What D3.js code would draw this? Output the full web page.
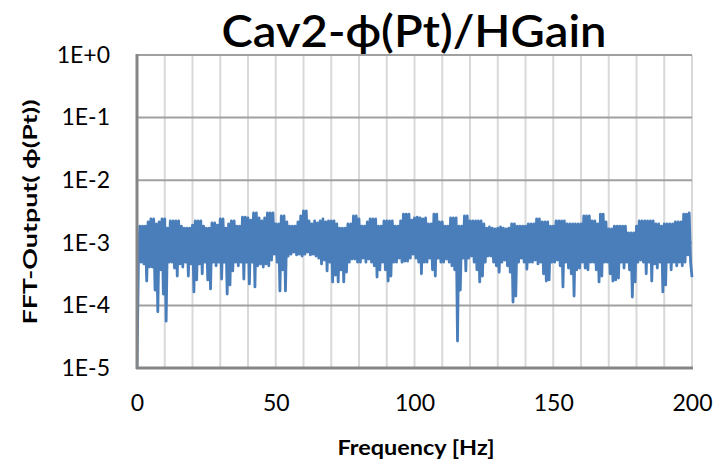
<!DOCTYPE html>
<html>
<head>
<meta charset="utf-8">
<script src="https://cdn.jsdelivr.net/npm/d3@7"></script>
<style>
  html, body { margin: 0; padding: 0; background: #fff; }
  svg { display: block; }
  text { font-family: Lato, "Open Sans", "DejaVu Sans", sans-serif; fill: #000; }
</style>
</head>
<body>
<svg id="chart" width="715" height="465"></svg>
<script>
// ---- Data ----
const chartTitle = "Cav2-\u03D5(Pt)/HGain";
const xTitle = "Frequency [Hz]";
const yTitle = "FFT-Output( \u03D5(Pt))";

const xTickValues = [0, 50, 100, 150, 200];
const xGridValues = [0, 10, 20, 30, 40, 50, 60, 70, 80, 90, 100, 110, 120, 130, 140, 150, 160, 170, 180, 190, 200];
const yTickValues = [1, 1e-1, 1e-2, 1e-3, 1e-4, 1e-5];
const yTickLabels = ["1E+0", "1E-1", "1E-2", "1E-3", "1E-4", "1E-5"];

const freqStart = 0;     // Hz
const freqStep = 0.5;    // Hz between samples

// FFT amplitude, one value every 0.5 Hz from 0 to 200 Hz
const amplitude = [
  1e-5, 4.6e-4, 1.85e-3, 4.9e-4, 1.85e-3, 4.6e-4, 1.85e-3, 2.45e-4, 2.15e-3, 4.1e-4, 2.4e-3, 4.1e-4, 2.4e-3, 1.76e-4, 2.0e-3, 7.9e-5, 2.15e-3, 3.7e-4, 2.4e-3, 1.52e-4,
  2.4e-3, 5.6e-5, 1.72e-3, 4.9e-4, 2.23e-3, 4.9e-4, 2.23e-3, 3.95e-4, 2.23e-3, 2.95e-4, 2.23e-3, 4.6e-4, 1.85e-3, 4.1e-4, 1.72e-3, 4.9e-4, 1.72e-3, 2.95e-4, 1.72e-3, 4.6e-4,
  1.92e-3, 1.64e-4, 2.23e-3, 2.55e-4, 2.23e-3, 4.6e-4, 2.23e-3, 3.2e-4, 1.85e-3, 4.9e-4, 1.72e-3, 2.55e-4, 1.72e-3, 1.83e-4, 2.07e-3, 4.9e-4, 2.07e-3, 4.3e-4, 1.92e-3, 4.9e-4,
  2.4e-3, 2.64e-4, 2.4e-3, 4.9e-4, 1.72e-3, 1.52e-4, 2.0e-3, 2.12e-4, 2.23e-3, 3.55e-4, 2.23e-3, 4.9e-4, 1.85e-3, 4.3e-4, 1.85e-3, 4.9e-4, 2.58e-3, 2.64e-4, 2.58e-3, 4.9e-4,
  2.49e-3, 2.2e-4, 2.31e-3, 4.9e-4, 2.99e-3, 1.97e-4, 2.99e-3, 4.3e-4, 2.49e-3, 4.6e-4, 2.23e-3, 4.1e-4, 2.49e-3, 4.6e-4, 2.99e-3, 4.3e-4, 2.99e-3, 5.3e-4, 2.99e-3, 6.6e-4,
  2.0e-3, 4.9e-4, 2.0e-3, 1.7e-4, 2.68e-3, 3.7e-4, 2.68e-3, 1.7e-4, 2.15e-3, 6.15e-4, 1.85e-3, 6.6e-4, 1.85e-3, 7.1e-4, 1.85e-3, 6.4e-4, 2.15e-3, 6.6e-4, 2.68e-3, 6.15e-4,
  3.22e-3, 6.6e-4, 3.22e-3, 7.1e-4, 2.23e-3, 6.4e-4, 2.0e-3, 6.6e-4, 2.23e-3, 6.15e-4, 2.07e-3, 5.7e-4, 2.23e-3, 4.6e-4, 2.4e-3, 5.3e-4, 2.15e-3, 3.55e-4, 2.23e-3, 4.9e-4,
  2.23e-3, 2.37e-4, 2.23e-3, 3.06e-4, 2.0e-3, 2.37e-4, 1.72e-3, 3.7e-4, 1.72e-3, 2.37e-4, 1.72e-3, 3.4e-4, 2.0e-3, 4.9e-4, 2.0e-3, 5.5e-4, 2.68e-3, 5.5e-4, 2.68e-3, 4.9e-4,
  2.4e-3, 4.9e-4, 1.85e-3, 5.7e-4, 1.85e-3, 4.9e-4, 2.15e-3, 5.5e-4, 2.4e-3, 4.9e-4, 2.4e-3, 4.3e-4, 2.4e-3, 2.84e-4, 1.85e-3, 3.7e-4, 1.85e-3, 4.9e-4, 2.23e-3, 3.7e-4,
  2.23e-3, 2.45e-4, 2.23e-3, 2.95e-4, 2.23e-3, 4.9e-4, 1.85e-3, 4.9e-4, 1.85e-3, 5.7e-4, 2.23e-3, 4.9e-4, 2.88e-3, 5.1e-4, 2.88e-3, 5.1e-4, 2.88e-3, 5.7e-4, 2.31e-3, 6.6e-4,
  2.49e-3, 5.7e-4, 2.58e-3, 4.9e-4, 2.49e-3, 3.2e-4, 2.4e-3, 4.9e-4, 2.49e-3, 4.9e-4, 2.0e-3, 5.7e-4, 2.0e-3, 3.7e-4, 2.88e-3, 2.95e-4, 2.88e-3, 5.7e-4, 2.15e-3, 4.9e-4,
  2.15e-3, 4.9e-4, 1.85e-3, 5.5e-4, 1.85e-3, 4.9e-4, 2.49e-3, 4.3e-4, 2.49e-3, 3.7e-4, 2.49e-3, 2.7e-5, 1.85e-3, 1.76e-4, 1.85e-3, 5.7e-4, 2.68e-3, 3.55e-4, 2.68e-3, 5.7e-4,
  2.23e-3, 6.15e-4, 2.23e-3, 4.9e-4, 2.23e-3, 3.7e-4, 2.23e-3, 2.37e-4, 2.23e-3, 2.95e-4, 2.0e-3, 4.9e-4, 1.72e-3, 6.15e-4, 1.79e-3, 6.15e-4, 1.72e-3, 4.9e-4, 1.66e-3, 4.3e-4,
  1.72e-3, 3.4e-4, 1.79e-3, 4.9e-4, 1.72e-3, 5.3e-4, 1.66e-3, 4.3e-4, 1.72e-3, 3.4e-4, 2.0e-3, 1.13e-4, 2.0e-3, 1.41e-4, 1.85e-3, 4.9e-4, 1.85e-3, 5.7e-4, 1.85e-3, 4.9e-4,
  1.85e-3, 3.8e-4, 2.0e-3, 4.9e-4, 2.0e-3, 4.9e-4, 2.0e-3, 5.3e-4, 2.4e-3, 4.6e-4, 2.4e-3, 4.9e-4, 2.15e-3, 3.2e-4, 2.15e-3, 2.45e-4, 2.15e-3, 2.55e-4, 1.85e-3, 4.9e-4,
  1.85e-3, 4.9e-4, 2.23e-3, 5.3e-4, 2.23e-3, 4.3e-4, 2.23e-3, 1.97e-4, 2.23e-3, 4.9e-4, 2.0e-3, 3.95e-4, 2.0e-3, 3.2e-4, 2.0e-3, 1.41e-4, 2.0e-3, 3.7e-4, 2.0e-3, 3.95e-4,
  2.0e-3, 4.9e-4, 2.68e-3, 3.95e-4, 2.68e-3, 3.7e-4, 2.68e-3, 4.9e-4, 2.23e-3, 4.9e-4, 2.23e-3, 3.7e-4, 2.0e-3, 2.37e-4, 2.88e-3, 2.95e-4, 2.88e-3, 4.9e-4, 2.15e-3, 4.9e-4,
  1.66e-3, 3.2e-4, 1.66e-3, 2.45e-4, 1.85e-3, 2.55e-4, 1.85e-3, 2.74e-4, 1.85e-3, 4.9e-4, 1.85e-3, 3.95e-4, 1.85e-3, 4.9e-4, 1.44e-3, 3.7e-4, 1.44e-3, 1.36e-4, 1.44e-3, 2.37e-4,
  1.85e-3, 4.9e-4, 2.23e-3, 5.3e-4, 2.23e-3, 4.9e-4, 2.23e-3, 3.2e-4, 2.23e-3, 4.9e-4, 2.23e-3, 2.45e-4, 2.23e-3, 4.6e-4, 2.0e-3, 3.95e-4, 2.0e-3, 4.9e-4, 1.85e-3, 1.64e-4,
  2.0e-3, 2.12e-4, 2.0e-3, 4.9e-4, 2.0e-3, 3.7e-4, 2.0e-3, 4.9e-4, 2.15e-3, 4.3e-4, 2.15e-3, 4.9e-4, 2.15e-3, 4.3e-4, 2.88e-3, 4.9e-4, 2.88e-3, 6.4e-4, 2.99e-3, 4.9e-4,
  2.84e-4
];

// ---- Layout ----
const svg = d3.select("#chart");
const plot = { left: 137, right: 692, top: 55, bottom: 368 };

const x = d3.scaleLinear().domain([0, 200]).range([plot.left, plot.right]);
const y = d3.scaleLog().domain([1e-5, 1]).range([plot.bottom, plot.top]);

const series = amplitude.map((v, i) => ({ f: freqStart + i * freqStep, v }));

// vertical gridlines
svg.append("g").selectAll("line").data(xGridValues).join("line")
  .attr("x1", d => x(d)).attr("x2", d => x(d))
  .attr("y1", plot.top).attr("y2", plot.bottom)
  .attr("stroke", "#d9d9d9").attr("stroke-width", 2);

// horizontal gridlines
svg.append("g").selectAll("line").data(yTickValues).join("line")
  .attr("x1", plot.left).attr("x2", plot.right)
  .attr("y1", d => y(d)).attr("y2", d => y(d))
  .attr("stroke", "#a0a0a0").attr("stroke-width", 2);

// clip
svg.append("clipPath").attr("id", "clip").append("rect")
  .attr("x", plot.left).attr("y", plot.top)
  .attr("width", plot.right - plot.left + 2).attr("height", plot.bottom - plot.top + 1);

// data line
svg.append("path")
  .datum(series)
  .attr("clip-path", "url(#clip)")
  .attr("fill", "none")
  .attr("stroke", "#4a7ebb")
  .attr("stroke-width", 2.8)
  .attr("stroke-linejoin", "round")
  .attr("d", d3.line().x(d => x(d.f)).y(d => y(Math.max(d.v, 1e-5))));

// axis lines
svg.append("line")
  .attr("x1", plot.left).attr("x2", plot.left)
  .attr("y1", plot.top - 1).attr("y2", plot.bottom + 1)
  .attr("stroke", "#868686").attr("stroke-width", 3);
svg.append("line")
  .attr("x1", plot.left - 1).attr("x2", plot.right + 1)
  .attr("y1", plot.bottom).attr("y2", plot.bottom)
  .attr("stroke", "#868686").attr("stroke-width", 3);

// y axis labels
const yAxis = d3.axisLeft(y)
  .tickValues(yTickValues)
  .tickFormat((d, i) => yTickLabels[i])
  .tickSize(0).tickPadding(27);
const gy = svg.append("g").attr("transform", `translate(${plot.left},0)`).call(yAxis);
gy.select(".domain").remove();
gy.selectAll("text").attr("font-size", 23).attr("font-family", "Lato, sans-serif").attr("fill", "#000");

// x axis labels
const xAxis = d3.axisBottom(x).tickValues(xTickValues).tickFormat(d3.format("d")).tickSize(0).tickPadding(27);
const gx = svg.append("g").attr("transform", `translate(0,${plot.bottom})`).call(xAxis);
gx.select(".domain").remove();
gx.selectAll("text").attr("font-size", 23).attr("font-family", "Lato, sans-serif").attr("fill", "#000");

// titles
svg.append("text")
  .attr("x", 414).attr("y", 47)
  .attr("text-anchor", "middle")
  .attr("font-size", 44).attr("font-weight", 600)
  .attr("textLength", 385).attr("lengthAdjust", "spacingAndGlyphs")
  .text(chartTitle);

svg.append("text")
  .attr("x", 416).attr("y", 455)
  .attr("text-anchor", "middle")
  .attr("font-size", 21).attr("font-weight", "bold")
  .attr("textLength", 157).attr("lengthAdjust", "spacingAndGlyphs")
  .text(xTitle);

svg.append("text")
  .attr("transform", "translate(37,212) rotate(-90)")
  .attr("text-anchor", "middle")
  .attr("font-size", 19).attr("font-weight", "bold")
  .attr("textLength", 225).attr("lengthAdjust", "spacingAndGlyphs")
  .text(yTitle);
</script>
</body>
</html>
